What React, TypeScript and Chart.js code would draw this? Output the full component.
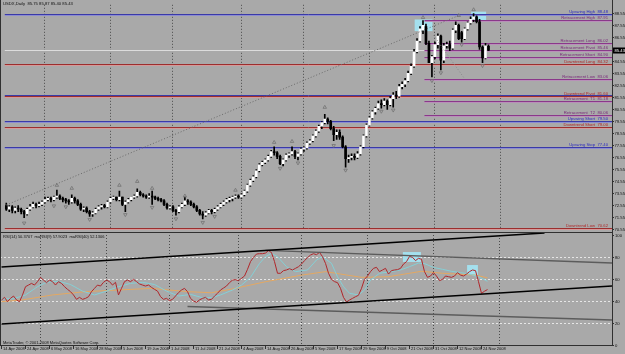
import React, { useEffect, useRef } from 'react';
import { Chart, registerables } from 'chart.js';

Chart.register(...registerables);

const symbolTitle = 'USDX,Daily  85.75 85.87 85.40 85.43';
const rsiTitle = 'RSI(14) 50.3707  maRSI(9) 57.9023  maRSI(40) 52.1306';
const copyright = 'MetaTrader, \u00a9 2001-2008 MetaQuotes Software Corp.';

// [open, high, low, close] per daily bar
const ohlc: number[][] = [
  [72.5,72.7,72.1,72.2],[72.2,72.5,72.0,72.4],[72.4,72.5,71.9,72.1],[72.1,72.4,71.9,72.3],[72.3,72.5,72.0,72.2],
  [72.2,72.3,71.8,72.0],[72.0,72.1,71.5,71.8],[71.8,72.3,71.7,72.2],[72.2,72.6,72.1,72.4],[72.4,72.8,72.3,72.6],
  [72.6,72.7,72.3,72.5],[72.5,72.8,72.4,72.6],[72.6,72.9,72.5,72.8],[72.8,73.2,72.7,73.0],[73.0,73.2,72.9,73.1],
  [73.1,73.2,72.8,73.0],[73.0,73.3,72.9,73.2],[73.2,73.8,73.1,73.3],[73.3,73.4,73.0,73.1],[73.1,73.2,72.8,73.0],
  [73.0,73.1,72.7,72.9],[72.9,73.0,72.6,72.8],[72.8,73.4,72.7,73.1],[73.1,73.2,72.7,72.9],[72.9,73.0,72.5,72.6],
  [72.6,72.7,72.1,72.2],[72.2,72.4,72.0,72.3],[72.3,72.4,71.9,72.0],[72.0,72.1,71.6,71.8],[71.8,72.0,71.6,71.9],
  [71.9,72.3,71.8,72.2],[72.2,72.5,72.1,72.4],[72.4,72.6,72.2,72.5],[72.5,72.6,72.3,72.4],[72.4,72.9,72.3,72.8],
  [72.8,73.2,72.7,73.1],[73.1,73.3,73.0,73.2],[73.2,73.2,72.9,73.0],[73.0,73.7,72.9,73.2],[73.2,73.2,72.5,72.6],
  [72.6,72.9,72.0,72.8],[72.8,73.1,72.7,73.0],[73.0,73.2,72.9,73.2],[73.2,73.4,73.1,73.3],[73.3,73.9,73.2,73.6],
  [73.6,73.7,73.3,73.4],[73.4,73.5,73.2,73.3],[73.3,73.4,73.1,73.2],[73.2,73.5,73.1,73.3],[73.3,73.7,72.6,73.2],
  [73.2,73.3,73.0,73.1],[73.1,73.2,72.9,73.0],[73.0,73.1,72.8,72.9],[72.9,73.0,72.5,72.6],[72.6,72.7,72.2,72.3],
  [72.3,72.5,72.2,72.4],[72.4,72.5,72.0,72.1],[72.1,72.2,71.7,72.0],[72.0,72.5,71.9,72.4],[72.4,72.7,72.3,72.6],
  [72.6,73.2,72.5,72.9],[72.9,73.0,72.6,72.8],[72.8,72.9,72.5,72.6],[72.6,72.7,72.3,72.4],[72.4,72.5,72.0,72.1],
  [72.1,72.2,71.7,71.8],[71.8,72.0,71.4,71.7],[71.7,72.0,71.6,71.9],[71.9,72.2,71.8,72.1],[72.1,72.2,71.8,72.0],
  [72.0,72.3,71.9,72.2],[72.2,72.5,72.1,72.4],[72.4,72.7,72.3,72.6],[72.6,72.9,72.5,72.8],[72.8,73.1,72.7,73.0],
  [73.0,73.2,72.8,73.1],[73.1,73.3,72.9,73.2],[73.2,73.4,73.1,73.3],[73.3,73.4,73.1,73.2],[73.2,73.5,73.1,73.4],
  [73.4,73.8,73.3,73.7],[73.7,74.3,73.6,74.2],[74.2,74.7,74.1,74.6],[74.6,75.0,74.5,74.9],[74.9,75.5,74.8,75.4],
  [75.4,76.0,75.3,75.9],[75.9,76.2,75.8,76.1],[76.1,76.4,76.0,76.3],[76.3,76.7,76.2,76.6],[76.6,77.1,76.5,77.0],
  [77.0,77.4,76.7,76.9],[76.9,77.0,76.4,76.6],[76.6,76.7,75.9,76.0],[76.0,76.4,75.8,76.3],[76.3,76.8,76.2,76.7],
  [76.7,76.9,76.5,76.8],[76.8,77.4,76.7,77.0],[77.0,77.1,76.4,76.6],[76.6,76.9,76.3,76.8],[76.8,77.3,76.7,77.2],
  [77.2,77.4,77.0,77.3],[77.3,77.8,77.2,77.7],[77.7,78.0,77.6,77.9],[77.9,78.4,77.8,78.3],[78.3,78.8,78.2,78.7],
  [78.7,79.2,78.6,79.1],[79.1,79.5,78.9,79.4],[79.4,80.1,79.3,79.7],[79.7,79.8,79.3,79.5],[79.5,79.6,78.8,78.9],
  [78.9,79.1,77.9,78.4],[78.4,78.8,78.0,78.6],[78.6,78.8,78.0,78.2],[78.2,78.3,77.3,77.4],[77.4,77.5,75.7,76.4],
  [76.4,76.7,76.1,76.5],[76.5,76.8,76.3,76.6],[76.6,76.8,76.3,76.5],[76.5,77.0,76.4,76.8],[76.8,77.5,76.7,77.4],
  [77.4,78.4,77.3,78.3],[78.3,79.3,78.2,79.2],[79.2,79.9,79.1,79.8],[79.8,80.4,79.7,80.3],[80.3,80.7,80.1,80.6],
  [80.6,81.2,80.5,81.0],[81.0,81.3,80.6,80.9],[80.9,81.4,80.8,81.2],[81.2,81.3,80.5,80.9],[80.9,81.6,80.8,81.4],
  [81.4,81.9,80.7,81.7],[81.7,82.0,81.4,81.6],[81.6,82.6,81.5,82.4],[82.4,82.8,82.2,82.6],[82.6,83.1,82.4,82.9],
  [82.9,83.7,82.8,83.5],[83.5,84.3,83.4,84.1],[84.1,85.5,84.0,85.3],[85.3,86.4,85.2,86.2],[86.2,87.4,86.1,87.2],
  [87.1,87.9,86.8,87.5],[87.4,87.6,85.9,86.0],[86.0,86.2,84.4,84.4],[84.4,85.0,83.2,84.9],[84.9,86.1,84.7,85.9],
  [85.9,86.8,85.6,86.6],[86.6,86.7,83.8,84.6],[84.6,86.0,84.4,85.8],[85.8,86.1,85.6,85.9],[85.9,86.2,85.4,85.6],
  [85.6,87.2,85.5,87.1],[87.1,87.8,86.9,87.5],[87.5,87.6,86.3,86.4],[86.9,87.0,86.1,86.4],[86.4,87.3,86.3,87.2],
  [87.2,87.8,87.1,87.7],[87.7,88.2,87.6,88.0],[88.0,88.48,87.8,88.2],[88.2,88.3,87.7,87.8],[87.8,88.0,85.5,85.7],
  [85.7,85.8,84.4,84.8],[84.8,86.0,84.7,85.8],[85.75,85.87,85.40,85.43],
];

const rsi: number[] = [
  40.9,43.3,39.4,42.4,44.5,41.0,39.4,45.5,53.0,54.5,
  56.0,54.5,57.6,61.5,59.0,56.7,59.0,57.6,54.5,57.6,
  56.0,53.0,50.6,48.5,45.5,41.5,43.3,41.5,42.4,43.9,
  48.5,51.5,54.5,53.6,57.0,59.0,57.6,54.5,57.0,45.5,
  51.5,57.6,59.0,57.6,59.7,57.6,55.5,54.5,53.6,54.5,
  52.4,50.6,49.0,44.0,41.5,42.4,40.3,41.5,44.5,47.6,
  50.0,51.5,48.5,42.4,40.0,38.8,41.0,42.4,43.3,41.0,
  41.5,44.5,47.0,50.0,51.8,53.6,56.7,59.0,59.4,58.5,
  60.6,62.7,68.8,75.8,79.7,82.7,83.0,83.0,83.6,85.8,
  84.0,75.8,65.2,65.2,67.6,68.2,69.4,68.2,69.7,71.2,
  73.6,76.7,79.4,81.8,83.0,82.1,84.2,80.3,74.2,65.2,
  59.7,57.6,56.7,51.5,43.3,39.1,40.9,42.4,43.9,45.2,
  51.5,59.7,62.7,66.7,69.7,70.6,66.7,68.2,69.7,64.5,
  67.6,68.2,68.5,69.7,73.6,75.8,80.5,79.7,76.7,78.8,
  77.9,66.7,61.5,62.7,65.8,62.7,58.5,59.7,62.7,62.1,
  61.5,62.7,65.8,63.6,62.7,64.5,66.7,68.2,67.6,57.6,
  46.9,48.9,50.4,
];

// [bar index, value] read along the two moving averages of the RSI
const maFast: number[][] = [
  [0,42],[4,42],[8,45.5],[12,53],[15,57],[19,58],[23,55],[27,49],[31,45.5],[35,49],[39,53],[43,56],[47,57],
  [51,55],[55,49],[59,44.5],[63,46],[67,43],[70,43],[73,45.5],[77,50],[80,54.5],[83,61.5],[86,74.2],[88,80.3],
  [90,83.3],[92,80.3],[95,71.2],[98,66.7],[102,68.2],[105,77.3],[107,80.3],[110,74.2],[112,62],[114,53],[116,47],
  [119,45.5],[121,50],[123,59],[126,65.2],[130,66.7],[133,68.2],[136,71.2],[139,74.5],[141,74],[144,70.5],
  [147,68.8],[150,67],[153,65.8],[156,64.5],[159,62.1],[162,57.9],
];
const maSlow: number[][] = [
  [0,39.4],[7,41],[17,45.5],[28,48.5],[39,50],[50,51.5],[62,48.5],[70,47.5],[77,51],[88,57.5],[100,63.5],
  [108,66.7],[113,64.5],[120,61.5],[129,62.1],[140,67],[147,65.2],[158,63.6],[162,61],
];

const dateLabels: string[] = [
  '14 Apr 2008','24 Apr 2008','6 May 2008','16 May 2008','28 May 2008','5 Jun 2008','19 Jun 2008',
  '1 Jul 2008','11 Jul 2008','21 Jul 2008','4 Aug 2008','14 Aug 2008','26 Aug 2008','5 Sep 2008',
  '17 Sep 2008','29 Sep 2008','9 Oct 2008','21 Oct 2008','31 Oct 2008','12 Nov 2008','24 Nov 2008',
];
const barsPerDateLabel = 8;
const monthStarts: number[] = [13, 35, 56, 79, 100, 122, 144, 166];

const priceTicks: number[] = [
  88.55, 87.55, 86.55, 84.55, 83.55, 82.55, 81.55, 80.55, 79.55, 78.55, 77.55, 76.55, 75.55, 74.55, 73.55, 72.55, 71.55, 70.55,
];
const rsiTicks: number[] = [100, 80, 60, 40, 20, 0];
const rsiLevels: number[] = [80, 60, 40, 20];

const levelNames: string[] = [
  'Upswing High', 'Retracement High', 'Retracement Long', 'Retracement Pivot', 'Retracement Short',
  'Downtrend Long', 'Retracement Low', '', 'Downtrend Pivot', 'Retracement  T1', 'Retracement  T2',
  'Upswing Short', 'Downtrend Short', 'Upswing Stop', 'Downtrend Low',
];
const levelKinds: string[] = [
  'up', 'retr', 'retr', 'retr', 'retr', 'down', 'retr', 'up', 'down', 'retr', 'retr', 'up', 'down', 'up', 'down',
];
const levelValues: number[] = [
  88.48, 87.91, 86.02, 85.46, 84.90, 84.32, 83.06, 81.70, 81.60, 81.18, 80.06, 79.50, 79.00, 77.40, 70.62,
];
const levelFrom: (number | null)[] = [
  null, 140.5, 140.5, 140.5, 140.5, null, 140.5, null, null, 140.5, 140.5, null, null, null, null,
];

const fractalUp: number[][] = [
  [17,74.19],[22,73.94],[38,74.19],[44,74.51],[49,73.94],[60,73.3],[77,73.78],[90,77.76],[96,77.84],
  [107,80.68],[140,88.15],[152,88.32],[157,88.8],
];
const fractalDown: number[][] = [
  [6,71.05],[16,72.48],[20,72.4],[28,71.35],[40,71.75],[49,72.35],[57,71.4],[66,71.1],[70,71.6],[92,75.6],
  [98,76.05],[110,77.5],[114,75.45],[126,80.35],[130,80.45],[143,82.9],[146,83.55],[153,85.9],[160,84.15],
];

const priceTrend: number[][] = [[0, 72.55], [152, 88.32]];
const priceTrend2: number[][] = [[143.5, 86.69], [153.8, 83.12]];
const mainBoxes: number[][] = [[137.2, 143.2, 87.99, 87.02], [156.2, 161.2, 88.64, 87.91]];
const rsiBoxes: number[][] = [[133.8, 139.8, 84.5, 75.5], [155.2, 158.8, 72.7, 63.6]];
const rsiTrendBlack: number[][][] = [[[0, 70.9], [181, 101.8]], [[0, 19.1], [203.5, 53.6]]];
const rsiTrendGray: number[][][] = [[[88, 86], [203.5, 74.5]], [[62, 35], [203.5, 22.7]]];

// ---------- styling ----------
const BG = '#a9a9a9';
const FONT = '"Liberation Sans", Arial, sans-serif';
const kindStyle: Record<string, { line: string; halo: string; text: string }> = {
  up: { line: '#3a3aa8', halo: '#8c8cd0', text: '#2a2ac0' },
  down: { line: '#9c2e2e', halo: '#d49a9a', text: '#b02828' },
  retr: { line: '#8a388a', halo: '#b890b8', text: '#7a2a7a' },
};
const X_MIN = -0.5;
const X_MAX = 203.5;
const AXIS_X = 612;

function txt(ctx: CanvasRenderingContext2D, s: string, x: number, y: number, color: string, align: CanvasTextAlign = 'left', size = 4.2) {
  ctx.font = `${size}px ${FONT}`;
  ctx.fillStyle = color;
  ctx.textAlign = align;
  ctx.textBaseline = 'middle';
  ctx.fillText(s, x, y);
}

function drawGrid(chart: any) {
  const { ctx, chartArea: a, scales } = chart;
  ctx.save();
  ctx.strokeStyle = '#4a4a4a';
  ctx.lineWidth = 1;
  ctx.setLineDash([1, 2]);
  monthStarts.forEach((i) => {
    const px = Math.floor(scales.x.getPixelForValue(i)) + 0.5;
    ctx.beginPath();
    ctx.moveTo(px, a.top);
    ctx.lineTo(px, a.bottom);
    ctx.stroke();
  });
  ctx.restore();
}

function drawBoxes(chart: any, boxes: number[][]) {
  const { ctx, scales } = chart;
  ctx.save();
  ctx.fillStyle = '#a4e0ee';
  boxes.forEach(([i1, i2, v1, v2]) => {
    const x1 = scales.x.getPixelForValue(i1);
    const x2 = scales.x.getPixelForValue(i2);
    const y1 = scales.y.getPixelForValue(v1);
    const y2 = scales.y.getPixelForValue(v2);
    ctx.fillRect(x1, y1, x2 - x1, y2 - y1);
  });
  ctx.restore();
}

const mainDecor = {
  id: 'mainDecor',
  beforeDatasetsDraw(chart: any) {
    const { ctx, chartArea: a, scales } = chart;
    drawGrid(chart);
    drawBoxes(chart, mainBoxes);
    ctx.save();
    // bid line
    const last = ohlc[ohlc.length - 1][3];
    const by = Math.round(scales.y.getPixelForValue(last)) + 0.5;
    ctx.strokeStyle = '#dcdcdc';
    ctx.lineWidth = 1;
    ctx.beginPath();
    ctx.moveTo(a.left, by);
    ctx.lineTo(a.right, by);
    ctx.stroke();
    // level lines
    levelValues.forEach((v, k) => {
      const st = kindStyle[levelKinds[k]];
      const y = Math.round(scales.y.getPixelForValue(v)) + 0.5;
      const from = levelFrom[k];
      const x0 = from === null ? a.left : scales.x.getPixelForValue(from);
      ctx.strokeStyle = st.halo;
      ctx.beginPath();
      ctx.moveTo(x0, y + 1);
      ctx.lineTo(a.right, y + 1);
      ctx.stroke();
      ctx.strokeStyle = st.line;
      ctx.beginPath();
      ctx.moveTo(x0, y);
      ctx.lineTo(a.right, y);
      ctx.stroke();
    });
    ctx.restore();
  },
  afterDraw(chart: any) {
    const { ctx, chartArea: a, scales } = chart;
    ctx.save();
    // level labels
    levelValues.forEach((v, k) => {
      if (!levelNames[k]) return;
      const st = kindStyle[levelKinds[k]];
      const y = Math.round(scales.y.getPixelForValue(v)) - 2;
      txt(ctx, levelNames[k], 595, y, st.text, 'right');
      txt(ctx, v.toFixed(2), 608, y, st.text, 'right');
    });
    // axis
    ctx.strokeStyle = '#303030';
    ctx.lineWidth = 1;
    ctx.beginPath();
    ctx.moveTo(AXIS_X + 0.5, 0);
    ctx.lineTo(AXIS_X + 0.5, chart.height);
    ctx.moveTo(0.5, 0);
    ctx.lineTo(0.5, chart.height);
    ctx.moveTo(0, chart.height - 0.5);
    ctx.lineTo(AXIS_X, chart.height - 0.5);
    ctx.stroke();
    priceTicks.forEach((v) => {
      const y = Math.round(scales.y.getPixelForValue(v)) + 0.5;
      ctx.beginPath();
      ctx.moveTo(AXIS_X, y);
      ctx.lineTo(AXIS_X + 2, y);
      ctx.stroke();
      txt(ctx, v.toFixed(2), AXIS_X + 2.5, y, '#101010');
    });
    // current price box
    const last = ohlc[ohlc.length - 1][3];
    const cy = Math.round(scales.y.getPixelForValue(last)) + 0.5;
    ctx.fillStyle = '#000';
    ctx.fillRect(AXIS_X + 1, cy - 3, 12, 6);
    txt(ctx, last.toFixed(2), AXIS_X + 2.5, cy, '#ffffff');
    // title
    txt(ctx, symbolTitle, 3, 4, '#101010', 'left', 4.2);
    ctx.restore();
  },
};

const rsiDecor = {
  id: 'rsiDecor',
  beforeDatasetsDraw(chart: any) {
    const { ctx, chartArea: a, scales } = chart;
    drawGrid(chart);
    ctx.save();
    ctx.strokeStyle = '#e6e6e6';
    ctx.lineWidth = 1;
    ctx.setLineDash([2, 2]);
    rsiLevels.forEach((v) => {
      const y = Math.round(scales.y.getPixelForValue(v)) + 0.5;
      ctx.beginPath();
      ctx.moveTo(a.left, y);
      ctx.lineTo(a.right, y);
      ctx.stroke();
    });
    ctx.restore();
    drawBoxes(chart, rsiBoxes);
  },
  afterDraw(chart: any) {
    const { ctx, chartArea: a, scales } = chart;
    ctx.save();
    ctx.strokeStyle = '#303030';
    ctx.lineWidth = 1;
    ctx.beginPath();
    ctx.moveTo(AXIS_X + 0.5, 0);
    ctx.lineTo(AXIS_X + 0.5, a.bottom);
    ctx.moveTo(0.5, 0);
    ctx.lineTo(0.5, a.bottom);
    ctx.moveTo(0, a.bottom + 0.5);
    ctx.lineTo(AXIS_X + 1, a.bottom + 0.5);
    ctx.stroke();
    rsiTicks.forEach((v) => {
      const y = Math.round(scales.y.getPixelForValue(v)) + 0.5;
      ctx.beginPath();
      ctx.moveTo(AXIS_X, y);
      ctx.lineTo(AXIS_X + 2, y);
      ctx.stroke();
      txt(ctx, String(v), AXIS_X + 3, y, '#101010');
    });
    dateLabels.forEach((s, k) => {
      const x = Math.floor(scales.x.getPixelForValue(k * barsPerDateLabel)) + 0.5;
      ctx.beginPath();
      ctx.moveTo(x, a.bottom + 1);
      ctx.lineTo(x, a.bottom + 4);
      ctx.stroke();
      txt(ctx, s, x + 1.5, a.bottom + 4, '#101010', 'left', 4);
    });
    txt(ctx, rsiTitle, 3, a.top + 2, '#101010', 'left', 4);
    txt(ctx, copyright, 3, a.bottom - 2.5, '#101010', 'left', 4);
    ctx.restore();
  },
};

const toPts = (arr: number[][]) => arr.map(([x, y]) => ({ x, y }));

function mainConfig(): any {
  const bodies = ohlc.map((d, i) => ({ x: i, y: [d[0], d[3]] }));
  const wicks = ohlc.map((d, i) => ({ x: i, y: [d[2], d[1]] }));
  const bodyColors = ohlc.map((d) => (d[3] >= d[0] ? '#ffffff' : '#000000'));
  return {
    type: 'bar',
    data: {
      datasets: [
        {
          type: 'line', data: toPts(priceTrend), borderColor: '#6a6a6a', borderWidth: 1, borderDash: [1, 2],
          pointRadius: 0, order: 0,
        },
        {
          type: 'line', data: toPts(priceTrend2), borderColor: '#8a8a8a', borderWidth: 1, borderDash: [1, 2],
          pointRadius: 0, order: 0,
        },
        {
          type: 'line', data: toPts(fractalUp), showLine: false, pointStyle: 'triangle', pointRadius: 2,
          pointBorderColor: '#747474', pointBackgroundColor: 'rgba(0,0,0,0)', pointBorderWidth: 0.8, order: 0,
        },
        {
          type: 'line', data: toPts(fractalDown), showLine: false, pointStyle: 'triangle', pointRadius: 2,
          pointRotation: 180, pointBorderColor: '#747474', pointBackgroundColor: 'rgba(0,0,0,0)',
          pointBorderWidth: 0.8, order: 0,
        },
        {
          type: 'bar', data: bodies, backgroundColor: bodyColors, borderColor: '#000000', borderWidth: 0,
          barThickness: 2, grouped: false, minBarLength: 1, borderSkipped: false, order: 1,
        },
        {
          type: 'bar', data: wicks, backgroundColor: '#000000', borderWidth: 0, barThickness: 1,
          grouped: false, borderSkipped: false, order: 2,
        },
      ],
    },
    options: {
      animation: false,
      responsive: false,
      devicePixelRatio: 1,
      events: [],
      layout: { padding: { left: 0, right: 13, top: 2, bottom: 2 } },
      plugins: { legend: { display: false }, tooltip: { enabled: false } },
      scales: {
        x: { type: 'linear', min: X_MIN, max: X_MAX, display: false, offset: false },
        y: { type: 'linear', min: 70.62, max: 89.21, display: false },
      },
    },
    plugins: [mainDecor],
  };
}

function rsiConfig(): any {
  const lineDs = (pts: number[][], color: string, width: number, order: number) => ({
    type: 'line', data: toPts(pts), borderColor: color, borderWidth: width, pointRadius: 0,
    tension: 0, order, clip: { left: 0, top: 3, right: 0, bottom: 0 },
  });
  return {
    type: 'line',
    data: {
      datasets: [
        lineDs(maSlow, '#e4a862', 1, 4),
        lineDs(maFast, '#84d0d6', 1, 3),
        { ...lineDs(rsi.map((v, i) => [i, v]), '#b0262a', 1, 2) },
        ...rsiTrendGray.map((seg) => lineDs(seg, '#5c5c5c', 1.4, 1)),
        ...rsiTrendBlack.map((seg) => lineDs(seg, '#000000', 1.6, 0)),
      ],
    },
    options: {
      animation: false,
      responsive: false,
      devicePixelRatio: 1,
      events: [],
      layout: { padding: { left: 0, right: 13, top: 2, bottom: 9 } },
      plugins: { legend: { display: false }, tooltip: { enabled: false } },
      scales: {
        x: { type: 'linear', min: X_MIN, max: X_MAX, display: false, offset: false },
        y: { type: 'linear', min: 0, max: 100, display: false },
      },
    },
    plugins: [rsiDecor],
  };
}

export default function App() {
  const mainRef = useRef<HTMLCanvasElement>(null);
  const rsiRef = useRef<HTMLCanvasElement>(null);
  useEffect(() => {
    const c1 = new Chart(mainRef.current as HTMLCanvasElement, mainConfig());
    const c2 = new Chart(rsiRef.current as HTMLCanvasElement, rsiConfig());
    return () => {
      c1.destroy();
      c2.destroy();
    };
  }, []);
  return (
    <div style={{ position: 'fixed', left: 0, top: 0, width: 625, height: 354, background: BG, overflow: 'hidden' }}>
      <canvas ref={mainRef} width={625} height={233}
        style={{ position: 'absolute', left: 0, top: 0, width: 625, height: 233 }} />
      <canvas ref={rsiRef} width={625} height={121}
        style={{ position: 'absolute', left: 0, top: 233, width: 625, height: 121 }} />
    </div>
  );
}
